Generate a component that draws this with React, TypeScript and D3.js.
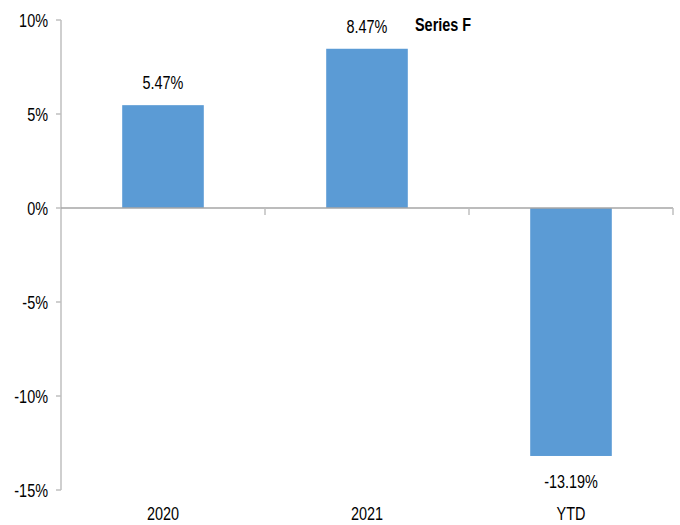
import React from "react";
import * as d3 from "d3";

const categories = ["2020", "2021", "YTD"];
const values = [5.47, 8.47, -13.19];
const yTicks = [10, 5, 0, -5, -10, -15];
const seriesName = "Series F";

const W = 680;
const H = 525;
const FONT = "'Liberation Sans', Arial, sans-serif";
const FS = 19;
const SX = 0.76;

function NText({ x, y, anchor, children, bold }: { x: number; y: number; anchor?: string; children: React.ReactNode; bold?: boolean }) {
  return (
    <text
      transform={`translate(${x},${y}) scale(${SX},1)`}
      textAnchor={anchor || "start"}
      fontSize={FS}
      fontWeight={bold ? "bold" : "normal"}
      fill="#000"
    >
      {children}
    </text>
  );
}

export default function App() {
  const x = d3.scaleBand<string>().domain(categories).range([61, 673]).paddingInner(0.6).paddingOuter(0.3);
  const xOuter = d3.scaleBand<string>().domain(categories).range([61, 673]);
  const y = d3.scaleLinear().domain([-15, 10]).range([490, 20]);
  const fmt = (v: number) => `${v.toFixed(2)}%`;

  return (
    <svg width={W} height={H} style={{ position: "absolute", left: 0, top: 0, background: "#fff" }} fontFamily={FONT}>
      {/* y axis */}
      <line x1={61} x2={61} y1={y(10)} y2={y(-15)} stroke="#bfbfbf" strokeWidth={1.5} />
      {yTicks.map((t) => (
        <g key={t}>
          <line x1={56} x2={61} y1={y(t)} y2={y(t)} stroke="#bfbfbf" strokeWidth={1.5} />
          <NText x={48} y={y(t) + 7} anchor="end">{`${t}%`}</NText>
        </g>
      ))}
      {/* bars */}
      {categories.map((c, i) => {
        const v = values[i];
        return (
          <rect
            key={c}
            x={x(c)}
            width={x.bandwidth()}
            y={y(Math.max(0, v))}
            height={Math.abs(y(v) - y(0))}
            fill="#5b9bd5"
          />
        );
      })}
      {/* zero axis */}
      <line x1={61} x2={673} y1={y(0)} y2={y(0)} stroke="#a6a6a6" strokeWidth={1.5} />
      {[...categories.map((c) => xOuter(c) as number).slice(1), 673].map((px, i) => (
        <line key={i} x1={px} x2={px} y1={y(0)} y2={y(0) + 7} stroke="#bfbfbf" strokeWidth={1.5} />
      ))}
      {/* data labels */}
      {categories.map((c, i) => {
        const v = values[i];
        const cx = (x(c) as number) + x.bandwidth() / 2;
        const ly = v >= 0 ? y(v) - 16 : y(v) + 32;
        return (
          <NText key={c} x={cx} y={ly} anchor="middle">
            {fmt(v)}
          </NText>
        );
      })}
      {/* category labels */}
      {categories.map((c) => (
        <NText key={c} x={(x(c) as number) + x.bandwidth() / 2} y={520} anchor="middle">
          {c}
        </NText>
      ))}
      {/* series title */}
      <NText x={415} y={31} bold>
        {seriesName}
      </NText>
    </svg>
  );
}
